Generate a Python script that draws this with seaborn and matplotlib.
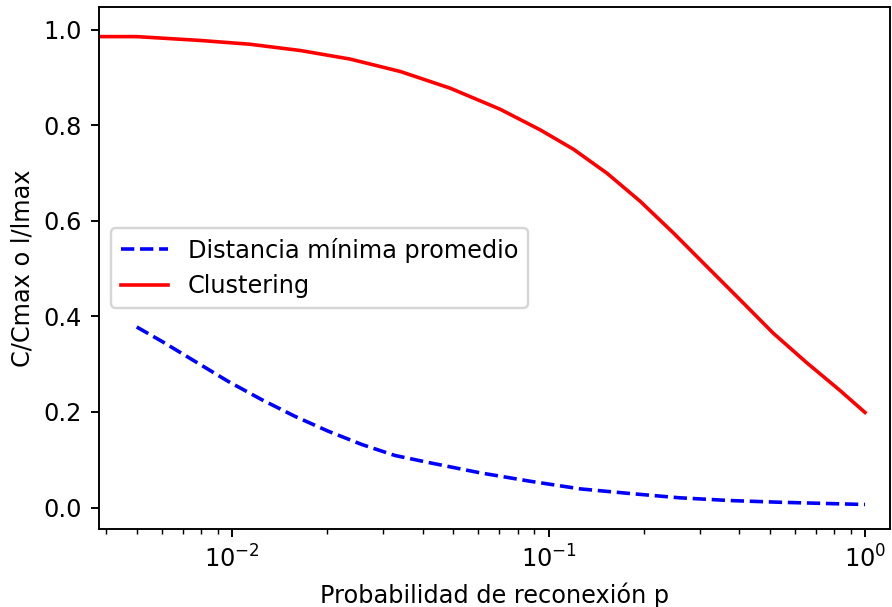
import matplotlib
matplotlib.use("Agg")
import matplotlib.pyplot as plt
import seaborn as sns
import pandas as pd

# Data
p_dist = [0.005, 0.0060, 0.00764, 0.00973, 0.0124, 0.0158, 0.0201, 0.0257,
          0.0327, 0.0423, 0.0608, 0.0875, 0.126, 0.181, 0.260, 0.374, 0.538, 1.0]
v_dist = [0.378, 0.348, 0.306, 0.264, 0.226, 0.191, 0.160, 0.132,
          0.109, 0.0935, 0.0726, 0.055, 0.039, 0.0293, 0.0203, 0.0146, 0.011, 0.0063]

p_clus = [0.002, 0.0050, 0.00792, 0.0114, 0.0164, 0.0236, 0.0340, 0.0489,
          0.0703, 0.0940, 0.120, 0.153, 0.195, 0.248, 0.316, 0.403, 0.513,
          0.655, 0.834, 1.0]
v_clus = [0.986, 0.986, 0.978, 0.970, 0.957, 0.939, 0.913, 0.878,
          0.834, 0.791, 0.750, 0.700, 0.641, 0.575, 0.505, 0.435, 0.365,
          0.303, 0.245, 0.199]

label_dist = "Distancia mínima promedio"
label_clus = "Clustering"

df_dist = pd.DataFrame({"p": p_dist, "v": v_dist})
df_clus = pd.DataFrame({"p": p_clus, "v": v_clus})

DPI = 172.5
fig = plt.figure(figsize=(892 / DPI, 607 / DPI), dpi=DPI)
ax = fig.add_axes([99 / 892, 1 - 529 / 607, (890 - 99) / 892, (529 - 7) / 607])

sns.lineplot(data=df_dist, x="p", y="v", ax=ax, color="blue", linestyle="--",
             linewidth=1.5, label=label_dist, sort=False, estimator=None)
sns.lineplot(data=df_clus, x="p", y="v", ax=ax, color="red", linestyle="-",
             linewidth=1.5, label=label_clus, sort=False, estimator=None)

ax.set_xscale("log")
ax.set_xlim(10 ** (-2 - 133 / 316.5), 10 ** (25 / 316.5))
ax.set_ylim(-0.045, 1.048)
ax.set_xlabel("Probabilidad de reconexión p")
ax.set_ylabel("C/Cmax o l/lmax")
ax.legend(loc="center left")

fig.savefig("out.png", dpi=DPI)
